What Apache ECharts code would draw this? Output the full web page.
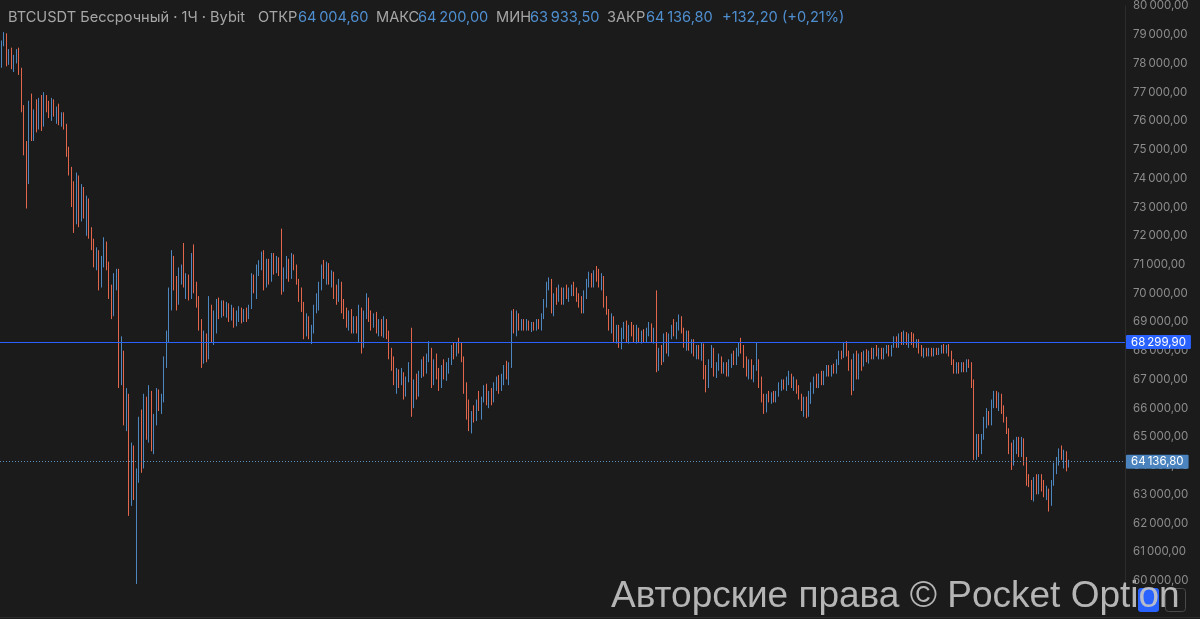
<!DOCTYPE html>
<html><head><meta charset="utf-8">
<script src="https://cdn.jsdelivr.net/npm/echarts@6/dist/echarts.min.js"></script>
<style>html,body{margin:0;padding:0;background:#1b1b1b}#c{width:1200px;height:619px}</style>
</head><body><div id="c"></div>
<script>
// Hourly candles: [open, close, low, high]
const ohlc = [
[77950,78700,77850,78800],[78700,79000,78600,79090],[79000,78100,77900,79050],[78100,78400,77950,78500],
[78400,77900,77800,78550],[77900,78200,77700,78300],[78200,78450,78000,78500],[78450,77700,77600,78550],
[77700,76450,76300,77850],[76450,74900,74800,76550],[74900,73900,72950,75300],[73900,76200,73800,76700],
[76200,75400,75300,76950],[75400,76300,75300,76400],[76300,75800,75600,76750],[75800,76600,75700,76800],
[76600,75900,75650,76900],[75900,76800,75800,77000],[76800,76400,76300,76900],[76400,76200,76100,76700],
[76200,76700,76000,76800],[76700,76300,76150,76750],[76300,76400,75900,76500],[76400,76000,75850,76600],
[76000,76200,75800,76300],[76200,75800,75700,76300],[75800,74900,74750,75900],[74900,74300,74100,75100],
[74300,73300,73000,74400],[73300,72500,72100,73900],[72500,73900,72400,74200],[73900,72600,72300,74100],
[72600,73600,72500,73800],[73600,72800,72600,73700],[72800,73200,72000,73400],[73200,72100,71900,73300],
[72100,71650,71500,72300],[71650,71100,70900,71900],[71100,71400,70800,71600],[71400,70300,70100,71500],
[70300,71100,70200,71300],[71100,71700,70900,71950],[71700,71000,70800,71800],[71000,70000,69800,71100],
[70000,69400,69100,70300],[69400,70400,69200,70700],[70400,70700,70100,70850],[70700,67000,66700,70850],
[67000,67900,66800,68500],[67900,65600,65400,68000],[65600,66400,65200,66700],[66400,62700,62250,66500],
[62700,64500,62600,64800],[64500,63000,62800,64700],[63000,63700,59880,63900],[63700,65400,63400,65700],
[65400,64000,63750,65950],[64000,66200,63900,66500],[66200,65100,64900,66400],[65100,66500,64800,66800],
[66500,64700,64500,66600],[64700,65600,64400,65800],[65600,66300,65400,66700],[66300,66000,65900,66650],
[66000,66300,65800,66500],[66300,67600,66200,67800],[67600,68500,67400,68700],[68500,69900,68300,70200],
[69900,71200,69400,71500],[71200,70300,70100,71300],[70300,69700,69400,70600],[69700,70800,69600,70900],
[70800,70900,70300,71000],[70900,70400,70200,71750],[70400,70500,69800,70700],[70500,69900,69750,70650],
[69900,71300,69800,71400],[71300,70200,70000,71700],[70200,69700,69500,70400],[69700,68900,68700,69900],
[68900,67700,67400,69100],[67700,68400,67550,68700],[68400,67800,67600,68600],[67800,69500,67700,69900],
[69500,68500,68300,69600],[68500,69200,68200,69400],[69200,69700,68600,69800],[69700,69300,69100,69850],
[69300,69600,69150,69750],[69600,69300,69200,69750],[69300,69550,69150,69700],[69550,69200,69000,69650],
[69200,69450,69050,69600],[69450,69000,68800,69500],[69000,69100,68850,69400],[69100,69400,69000,69550],
[69400,69100,68950,69500],[69100,69350,69000,69450],[69350,69200,69000,69500],[69200,69500,69100,69600],
[69500,70500,69450,70700],[70500,70100,70000,70650],[70100,70900,69800,71000],[70900,71000,70600,71150],
[71000,71300,70800,71450],[71300,70400,70100,71500],[70400,71100,70200,71200],[71100,70500,70300,71200],
[70500,71300,70400,71400],[71300,70800,70650,71400],[70800,71200,70700,71300],[71200,70800,70600,71250],
[70800,70100,69950,72250],[70100,70700,70050,70900],[70700,71100,70500,71300],[71100,70600,70400,71200],
[70600,71300,70500,71400],[71300,70900,70800,71350],[70900,70400,70300,71000],[70400,69900,69700,70500],
[69900,69500,69350,70200],[69500,68700,68400,69700],[68700,69100,68500,69300],[69100,68600,68400,69200],
[68600,68700,68230,68900],[68700,69500,68600,69600],[69500,69800,69300,70000],[69800,70300,69400,70400],
[70300,70800,70100,71000],[70800,70700,70500,71160],[70700,71000,70300,71100],[71000,70400,70300,71050],
[70400,70700,70200,70800],[70700,70000,69800,70750],[70000,69800,69600,70300],[69800,70300,69700,70500],
[70300,69500,69300,70400],[69500,69300,69100,69800],[69300,69000,68800,69500],[69000,69300,68700,69400],
[69300,68800,68600,69450],[68800,69100,68600,69200],[69100,68700,68600,69200],[68700,69400,68300,69600],
[69400,68200,67900,69500],[68200,69300,68100,69400],[69300,69700,69100,70000],[69700,69200,69000,69850],
[69200,68900,68700,69400],[68900,69200,68800,69300],[69200,68700,68600,69350],[68700,69000,68500,69100],
[69000,68600,68500,69100],[68600,69000,68450,69200],[69000,68500,68400,69100],[68500,67900,67700,68700],
[67900,67500,67300,68100],[67500,67000,66800,67800],[67000,67200,66500,67400],[67200,66900,66700,67350],
[66900,67200,66800,67400],[67200,66500,66300,67250],[66500,67000,66400,67100],[67000,67400,66900,67600],
[67400,66100,65700,68800],[66100,66800,66000,67000],[66800,66500,66300,67200],[66500,67200,66400,67300],
[67200,67500,67050,67700],[67500,67300,67100,67800],[67300,67800,67200,67900],[67800,68000,67600,68330],
[68000,66900,66700,68100],[66900,67500,66800,67700],[67500,67200,67000,67900],[67200,66800,66600,67400],
[66800,67300,66700,67500],[67300,67100,67000,67700],[67100,67500,66950,67600],[67500,67600,67200,67750],
[67600,68000,67500,68200],[68000,67900,67700,68300],[67900,68200,67800,68300],[68200,68000,67900,68450],
[68000,67700,67600,68300],[67700,66700,66500,67800],[66700,65800,65600,66900],[65800,65400,65200,66300],
[65400,65700,65120,65900],[65700,65600,65500,66100],[65600,66200,65550,66300],[66200,66000,65900,66600],
[66000,66300,65600,66400],[66300,66700,66200,66800],[66700,66200,66100,66850],[66200,66500,66000,66600],
[66500,66300,66100,66700],[66300,66800,66200,66900],[66800,67000,66600,67100],[67000,66700,66500,67150],
[66700,67100,66600,67200],[67100,67400,66800,67500],[67400,67100,67000,67650],[67100,67500,66800,67600],
[67500,69100,67400,69400],[69100,68800,68600,69450],[68800,69200,68500,69400],[69200,68900,68700,69300],
[68900,69000,68700,69100],[69000,68800,68700,69100],[68800,69000,68700,69100],[69000,68800,68700,69050],
[68800,68900,68650,69000],[68900,68800,68700,69000],[68800,69000,68700,69100],[69000,68900,68750,69100],
[68900,69200,68700,69300],[69200,69700,69100,69800],[69700,70300,69500,70400],[70300,70400,70100,70550],
[70400,69500,69300,70500],[69500,69900,69200,70000],[69900,69800,69600,70200],[69800,70100,69700,70300],
[70100,69700,69600,70200],[69700,70100,69600,70200],[70100,69900,69800,70300],[69900,70100,69700,70200],
[70100,70200,69900,70300],[70200,70000,69900,70400],[70000,69800,69700,70200],[69800,69700,69500,70000],
[69700,69400,69300,69900],[69400,69900,69300,70100],[69900,70400,69800,70500],[70400,70600,70200,70750],
[70600,70300,70200,70700],[70300,70700,70200,70800],[70700,70500,70400,70950],[70500,70300,70200,70850],
[70300,70500,70100,70700],[70500,69700,69500,70600],[69700,69400,69250,69900],[69400,68800,68700,69450],
[68800,69100,68600,69300],[69100,68500,68300,69200],[68500,68700,68250,68900],[68700,68200,68100,68900],
[68200,68600,68050,68800],[68600,68900,68400,69000],[68900,68400,68300,69050],[68400,68800,68250,68900],
[68800,68600,68500,69000],[68600,68500,68300,68900],[68500,68800,68250,68900],[68800,68400,68300,68800],
[68400,68600,68250,68700],[68600,68400,68300,68750],[68400,68700,68300,68800],[68700,68900,68500,69000],
[68900,68400,68300,68950],[68400,68700,68250,68800],[68700,67600,67250,70100],[67600,67900,67300,68100],
[67900,67700,67500,68200],[67700,68400,67600,68600],[68400,68000,67900,68650],[68000,68500,67800,68600],
[68500,68800,68400,68900],[68800,68600,68500,69100],[68600,68900,68400,69000],[68900,69100,68700,69260],
[69100,68700,68600,69200],[68700,68300,68100,68800],[68300,68600,68000,68700],[68600,68100,68000,68700],
[68100,68300,67900,68400],[68300,67900,67800,68400],[67900,68100,67700,68200],[68100,67800,67700,68200],
[67800,68200,67650,68300],[68200,67200,67000,68250],[67200,66800,66550,67500],[66800,67500,66700,67700],
[67500,68000,67400,68200],[68000,67300,67100,68100],[67300,67500,67050,67600],[67500,67700,67300,67900],
[67700,67300,67200,67800],[67300,67500,67200,67600],[67500,67200,67100,67600],[67200,67600,67100,67700],
[67600,67800,67400,67900],[67800,67600,67500,68000],[67600,68000,67500,68100],[68000,68200,67800,68300],
[68200,68000,67900,68450],[68000,67600,67400,68200],[67600,67300,67100,67800],[67300,67600,67000,67700],
[67600,67100,67000,67700],[67100,67400,66900,67500],[67400,67600,67300,68300],[67600,66900,66700,67700],
[66900,66400,66200,67100],[66400,66000,65800,66500],[66000,66400,65850,66500],[66400,66300,66200,66600],
[66300,66500,66150,66550],[66500,66300,66200,66600],[66300,66550,66200,66600],[66550,66800,66400,66900],
[66800,66900,66600,67000],[66900,66700,66650,67000],[66700,67000,66600,67100],[67000,67100,66800,67300],
[67100,66800,66700,67200],[66800,66950,66600,67100],[66950,66600,66500,67000],[66600,66400,66300,66800],
[66400,66000,65900,66500],[66000,66300,65700,66400],[66300,65800,65650,66400],[65800,66500,65700,66600],
[66500,66800,66150,66900],[66800,67000,66500,67100],[67000,66800,66700,67200],[66800,67100,66700,67200],
[67100,66900,66800,67300],[66900,67200,66800,67300],[67200,67400,67100,67500],[67400,67200,67100,67500],
[67200,67450,67100,67500],[67450,67300,67200,67550],[67300,67600,67200,67700],[67600,67900,67500,68000],
[67900,67800,67700,68000],[67800,68200,67750,68300],[68200,67900,67800,68330],[67900,67400,67300,68000],
[67400,66700,66450,67700],[66700,67700,66600,67900],[67700,67200,67000,68000],[67200,67800,67000,67900],
[67800,67500,67300,67950],[67500,67900,67450,68000],[67900,67700,67600,68050],[67700,67900,67550,68000],
[67900,67800,67700,68100],[67800,68000,67700,68100],[68000,67900,67800,68200],[67900,68000,67700,68100],
[68000,67800,67700,68100],[67800,68000,67700,68100],[68000,68100,67900,68200],[68100,67900,67800,68200],
[67900,68150,67800,68200],[68150,68400,68100,68500],[68400,68200,68100,68500],[68200,68500,68100,68600],
[68500,68300,68200,68650],[68300,68600,68200,68700],[68600,68300,68200,68650],[68300,68500,68100,68600],
[68500,68300,68200,68650],[68300,68200,68100,68600],[68200,68350,68100,68400],[68350,68000,67900,68400],
[68000,67900,67800,68200],[67900,68000,67750,68100],[68000,67850,67800,68100],[67850,68000,67800,68100],
[68000,67900,67800,68100],[67900,68050,67800,68100],[68050,67900,67850,68100],[67900,68000,67850,68100],
[68000,68100,67900,68200],[68100,67950,67900,68230],[67950,68150,67900,68200],[68150,67900,67800,68230],
[67900,67600,67500,68000],[67600,67300,67200,67700],[67300,67500,67200,67600],[67500,67300,67200,67600],
[67300,67500,67250,67600],[67500,67300,67250,67600],[67300,67600,67250,67700],[67600,67500,67400,67700],
[67500,66900,66700,67600],[66900,64500,64200,67000],[64500,64900,64200,65100],[64900,64500,64300,65100],
[64500,65000,64400,65100],[65000,65500,64900,65700],[65500,65800,65300,66000],[65800,65500,65400,65900],
[65500,66200,65400,66300],[66200,66500,66000,66600],[66500,66100,66000,66600],[66100,66400,65900,66550],
[66400,65900,65800,66500],[65900,65600,65500,66100],[65600,65200,65100,65700],[65200,64600,64400,65300],
[64600,64100,63850,64800],[64100,64700,64000,64900],[64700,64900,64400,65000],[64900,64400,64300,65000],
[64400,64900,64300,65000],[64900,64100,64000,64950],[64100,63500,63300,64300],[63500,63400,63250,63700],
[63400,63000,62800,63500],[63000,63500,62750,63600],[63500,63100,63000,63700],[63100,63600,63000,63700],
[63600,63200,63100,63700],[63200,63000,62900,63500],[63000,63100,62800,63300],[63100,62700,62400,63200],
[62700,63400,62600,63500],[63400,64000,63300,64100],[64000,64200,63700,64300],[64200,64500,64000,64600],
[64500,64300,64200,64700],[64300,64450,63900,64550],[64450,64000,63800,64500],[64004.6,64136.8,63933.5,64200]
];
const levelPrice = 68299.9;          // horizontal level drawn by the user
const totalSlots = 450;              // hourly slots visible on the time scale (incl. empty right margin)
const categories = [];
for (let i = 0; i < totalSlots; i++) categories.push('h' + i);

const UP = '#4e86c0', DOWN = '#e2664c';
function fmt(v) {
  const s = Math.abs(v).toFixed(2).split('.');
  return (v < 0 ? '-' : '') + s[0].replace(/\B(?=(\d{3})+(?!\d))/g, '\u2009') + ',' + s[1];
}
const last = ohlc[ohlc.length - 1];
const lastOpen = last[0], lastClose = last[1], lastLow = last[2], lastHigh = last[3];
const chg = lastClose - lastOpen;
const chgPct = chg / lastOpen * 100;

const chart = echarts.init(document.getElementById('c'), null, {renderer: 'canvas'});
const hdrFont = '14.6px Inter';
const grey = '#a6a6a6', blue = '#4f8fd0';
function t(x, text, fill) {
  return {type: 'text', left: x, top: 10, silent: true,
    style: {text: text, fill: fill, font: hdrFont}};
}
chart.setOption({
  backgroundColor: '#1b1b1b',
  animation: false,
  grid: {left: 0, right: 75, top: 1.5, bottom: 38.5, containLabel: false},
  xAxis: {type: 'category', data: categories, show: false, boundaryGap: true},
  yAxis: {
    type: 'value', position: 'right', min: 60000, max: 80000, interval: 1000,
    axisLine: {show: true, lineStyle: {color: '#2c2c2c', width: 1}},
    axisTick: {show: false}, splitLine: {show: false},
    axisLabel: {color: '#8c8c8c', fontFamily: 'Inter', fontSize: 11.5, margin: 8, formatter: v => fmt(v)}
  },
  series: [{
    type: 'candlestick', data: ohlc, barWidth: 1.2, clip: false,
    itemStyle: {color: UP, color0: DOWN, borderColor: UP, borderColor0: DOWN, borderWidth: 1},
    markLine: {
      symbol: 'none', silent: true, animation: false,
      data: [
        {yAxis: levelPrice, lineStyle: {color: '#2962ff', width: 1.2, type: 'solid'},
         label: {show: true, position: 'end', distance: 1, formatter: () => fmt(levelPrice),
           backgroundColor: '#2962ff', color: '#ffffff', fontFamily: 'Inter', fontSize: 11.5, padding: [1, 5, 1, 5], borderRadius: 1}},
        {yAxis: lastClose, lineStyle: {color: '#5f8fbf', width: 1, type: [1, 2]},
         label: {show: true, position: 'end', distance: 1, formatter: () => fmt(lastClose),
           backgroundColor: '#4a83bd', color: '#ffffff', fontFamily: 'Inter', fontSize: 11.5, padding: [1, 5, 1, 5], borderRadius: 1}}
      ]
    }
  }],
  graphic: [
    t(8, 'BTCUSDT Бессрочный · 1Ч · Bybit', grey),
    t(258, 'ОТКР', grey), t(298, fmt(lastOpen), blue),
    t(376, 'МАКС', grey), t(418, fmt(lastHigh), blue),
    t(496, 'МИН', grey), t(530, fmt(lastLow), blue),
    t(607, 'ЗАКР', grey), t(646, fmt(lastClose), blue),
    t(722, (chg >= 0 ? '+' : '') + fmt(chg) + ' (' + (chgPct >= 0 ? '+' : '') + fmt(chgPct) + '%)', blue),
    {type: 'line', silent: true, shape: {x1: 0, y1: 617.5, x2: 1200, y2: 617.5}, style: {stroke: '#2c2c2c', lineWidth: 1}},
    {type: 'rect', silent: true, shape: {x: 1138, y: 588, width: 21, height: 24, r: 3}, style: {fill: '#2962ff'}},
    {type: 'rect', silent: true, shape: {x: 1165.5, y: 588.5, width: 20, height: 23, r: 3}, style: {fill: 'none', stroke: '#4a4a4a', lineWidth: 1}},
    {type: 'text', silent: true, x: 611, y: 578,
      style: {text: 'Авторские права © Pocket Option', fill: 'rgba(198,198,198,0.9)', font: '37px "Liberation Sans"'}}
  ]
});
</script></body></html>
